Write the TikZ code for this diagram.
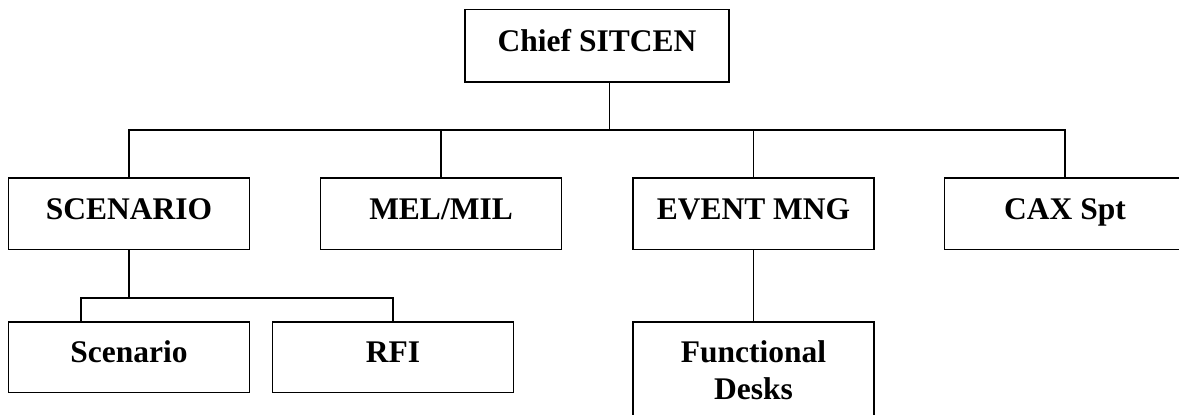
\documentclass[tikz,border=0pt]{standalone}
\usepackage{fontspec}
\setmainfont{Liberation Serif}
\begin{document}
\begin{tikzpicture}[x=1pt, y=-1pt, line width=1.6pt,
  orgbox/.style={draw, rectangle, inner sep=0pt, minimum width=241pt,
    font=\fontsize{31.5}{37.3}\selectfont\bfseries},
  topbox/.style={orgbox, minimum width=264pt, text height=42pt, text depth=30.4pt},
  midbox/.style={orgbox, text height=41.3pt, text depth=30.3pt},
  lowbox/.style={orgbox, text height=40.3pt, text depth=30pt},
  tallbox/.style={orgbox, align=center, minimum height=95.8pt}]
\useasboundingbox (0,0) rectangle (1179,415);
\clip (0,0) rectangle (1179,415);

% head of the organisation
\node[topbox] (chief) at (597,45.5) {Chief SITCEN};

% second level
\node[midbox] (scen)  at (129,213.5)  {SCENARIO};
\node[midbox] (mel)   at (441,213.5)  {MEL/MIL};
\node[midbox] (event) at (753.5,213.5) {EVENT MNG};
\node[midbox] (cax)   at (1065,213.5) {CAX Spt};

% third level
\node[lowbox] (scensub) at (129,357.2) {Scenario};
\node[lowbox] (rfi)     at (393,357.2) {RFI};
\node[tallbox] (desks)  at (753.5,369.9) {Functional\\Desks};

% junction points of the connector buses
\coordinate (trunk) at (609.3,130);
\coordinate (sdrop) at (80.7,297.7);

% connectors
\draw (chief.south -| trunk) -- (trunk);
\draw (scen.north) -- (scen.north |- trunk) -- (cax.north |- trunk) -- (cax.north);
\draw (mel.north) -- (mel.north |- trunk);
\draw (event.north) -- (event.north |- trunk);

\draw (scen.south) -- (scen.south |- sdrop);
\draw (scensub.north -| sdrop) -- (sdrop) -- (rfi.north |- sdrop) -- (rfi.north);
\draw (event.south) -- (desks.north);
\end{tikzpicture}
\end{document}
